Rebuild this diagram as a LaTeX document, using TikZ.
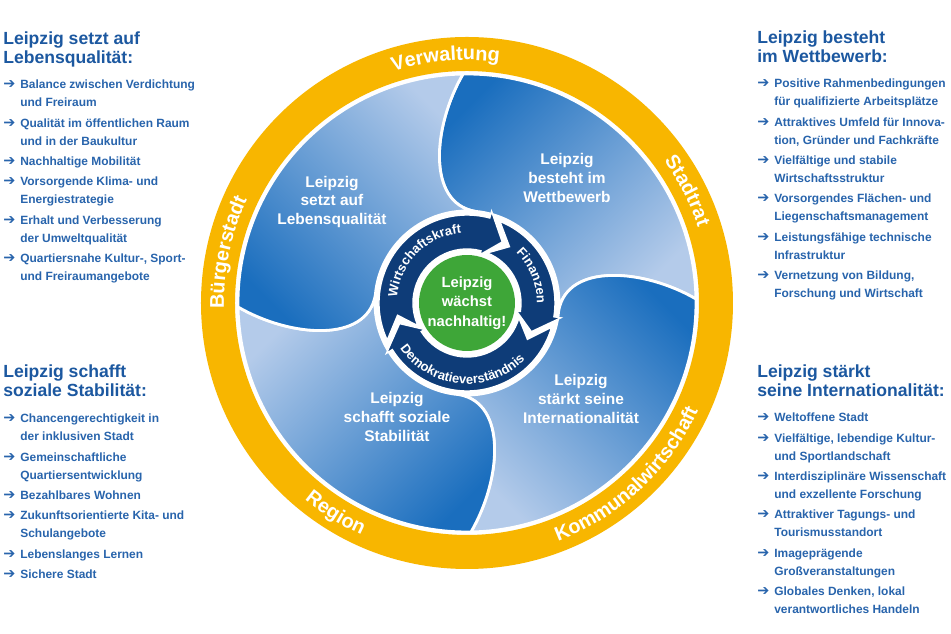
\documentclass[tikz,border=0pt]{standalone}
\usepackage{fontspec}
\setmainfont{Liberation Sans}
\newfontfamily\arrowfont{DejaVu Sans}
\usetikzlibrary{decorations.text}

\definecolor{headblue}{RGB}{28,88,160}
\definecolor{itemblue}{RGB}{40,100,172}
\definecolor{ringyellow}{RGB}{248,182,0}
\definecolor{ringnavy}{RGB}{14,60,120}
\definecolor{leafgreen}{RGB}{62,166,56}
\definecolor{petaldark}{RGB}{26,110,190}
\definecolor{petallight}{RGB}{180,203,234}

\newcommand{\arr}{\makebox[0.34cm][l]{\arrowfont\mdseries\fontsize{8.2}{10.2}\selectfont ➔}}
\newcommand{\ringlbl}{\fontsize{11.3}{13}\selectfont\bfseries}
\newcommand{\cyclelbl}{\fontsize{7.4}{8}\selectfont\bfseries}

\tikzset{
  head/.style={anchor=base west, inner sep=0pt, text=headblue, font=\fontsize{10}{10.8}\selectfont\bfseries},
  bullets/.style={anchor=base west, inner sep=0pt, text=itemblue, font=\fontsize{6.8}{10.2}\selectfont\bfseries},
  petallabel/.style={text=white, align=center, font=\fontsize{8.8}{10.8}\selectfont\bfseries},
  ringtext/.style={decorate, decoration={text along path, text align=center, text color=white, text={|\ringlbl|#1}}},
  cycletext/.style={decorate, decoration={text along path, text align=center, text color=white, text={|\cyclelbl|#1}}},
}

\begin{document}
\begin{tikzpicture}[x=0.02cm, y=0.02cm]
		\fill[white] (-467,-331) rectangle (484,303);
		\useasboundingbox (-467,-331) rectangle (484,303);
		% outer ring
		\fill[ringyellow, even odd rule] (0,0) circle[radius=266] (0,0) circle[radius=232];
		% petals
		\foreach \k in {0,...,3}{
			\pgfmathsetmacro\sa{45-90*\k}
			\pgfmathsetmacro\ta{85-90*\k}
			\pgfmathsetmacro\tb{-5-90*\k}
			\pgfmathsetmacro\oa{1-90*\k}
			\pgfmathsetmacro\ob{91-90*\k}
			\shadedraw[top color=petaldark, bottom color=petallight, shading angle=\sa, draw=white, line width=1.6pt]
				({91-90*\k}:229) .. controls ({101-90*\k}:180) and ({112-90*\k}:108) .. ({85-90*\k}:92)
				arc[start angle=\ta, end angle=\tb, radius=92]
				.. controls ({22-90*\k}:108) and ({11-90*\k}:180) .. ({1-90*\k}:229)
				arc[start angle=\oa, end angle=\ob, radius=229] -- cycle;
		}
		% cycle arrows
		\foreach \a/\b in {205/60, 68/-24, -16/-163}{
			\pgfmathsetmacro\hb{\b+15}
			\pgfmathsetmacro\na{\a-15}
			\filldraw[ringnavy, draw=white, line width=0.8pt] (\a:88) arc[start angle=\a, end angle=\hb, radius=88]
				-- (\hb:95) -- (\b:70.5) -- (\hb:50) -- (\hb:54)
				arc[start angle=\hb, end angle=\a, radius=54] -- (\na:70.5) -- cycle;
		}
		\path[cycletext=Wirtschaftskraft] (185:70) arc[start angle=185, end angle=85, radius=70];
		\path[cycletext=Finanzen] (55:70) arc[start angle=55, end angle=-10, radius=70];
		\path[cycletext=Demokratieverständnis] (-155:81) arc[start angle=-155, end angle=-35, radius=81];
		\node[circle, fill=leafgreen, minimum size=1.92cm, inner sep=0pt] (core) at (0,0) {};
		\node[text=white, align=center, font=\fontsize{8.4}{11}\selectfont\bfseries] (corelabel) at (core) {Leipzig\\wächst\\nachhaltig!};
		\node[petallabel] (quality) at (-135,101) {Leipzig\\setzt auf\\Lebensqualität};
		\node[petallabel] (contest) at (100,125) {Leipzig\\besteht im\\Wettbewerb};
		\node[petallabel] (social) at (-70,-114) {Leipzig\\schafft soziale\\Stabilität};
		\node[petallabel] (global) at (114,-96) {Leipzig\\stärkt seine\\Internationalität};
		% ring labels
		\path[ringtext=Verwaltung] (125:243) arc[start angle=125, end angle=65, radius=243];
		\path[ringtext=Stadtrat] (57:243) arc[start angle=57, end angle=-3, radius=243];
		\path[ringtext=Bürgerstadt] (198:243) arc[start angle=198, end angle=138, radius=243];
		\path[ringtext=Kommunalwirtschaft] (-82:255) arc[start angle=-82, end angle=-12, radius=255];
		\path[ringtext=Region] (-152:255) arc[start angle=-152, end angle=-92, radius=255];
		% side lists
		\node[head] (qualityhead) at (-464,258) {\begin{tabular}[t]{@{}l@{}}Leipzig setzt auf\\Lebensqualität:\end{tabular}};
		\node[bullets] (qualitylist) at (-464,214) {\begin{tabular}[t]{@{}l@{}l@{}}
			\arr & Balance zwischen Verdichtung\\ & und Freiraum\\[1.4pt]
			\arr & Qualität im öffentlichen Raum\\ & und in der Baukultur\\[1.4pt]
			\arr & Nachhaltige Mobilität\\[1.4pt]
			\arr & Vorsorgende Klima- und\\ & Energiestrategie\\[1.4pt]
			\arr & Erhalt und Verbesserung\\ & der Umweltqualität\\[1.4pt]
			\arr & Quartiersnahe Kultur-, Sport-\\ & und Freiraumangebote
		\end{tabular}};
		\node[head] (socialhead) at (-464,-75) {\begin{tabular}[t]{@{}l@{}}Leipzig schafft\\soziale Stabilität:\end{tabular}};
		\node[bullets] (sociallist) at (-464,-120) {\begin{tabular}[t]{@{}l@{}l@{}}
			\arr & Chancengerechtigkeit in\\ & der inklusiven Stadt\\[1.4pt]
			\arr & Gemeinschaftliche\\ & Quartiersentwicklung\\[1.4pt]
			\arr & Bezahlbares Wohnen\\[1.4pt]
			\arr & Zukunftsorientierte Kita- und\\ & Schulangebote\\[1.4pt]
			\arr & Lebenslanges Lernen\\[1.4pt]
			\arr & Sichere Stadt
		\end{tabular}};
		\node[head] (contesthead) at (290,259) {\begin{tabular}[t]{@{}l@{}}Leipzig besteht\\im Wettbewerb:\end{tabular}};
		\node[bullets] (contestlist) at (290,215) {\begin{tabular}[t]{@{}l@{}l@{}}
			\arr & Positive Rahmenbedingungen\\ & für qualifizierte Arbeitsplätze\\[1.4pt]
			\arr & Attraktives Umfeld für Innova-\\ & tion, Gründer und Fachkräfte\\[1.4pt]
			\arr & Vielfältige und stabile\\ & Wirtschaftsstruktur\\[1.4pt]
			\arr & Vorsorgendes Flächen- und\\ & Liegenschaftsmanagement\\[1.4pt]
			\arr & Leistungsfähige technische\\ & Infrastruktur\\[1.4pt]
			\arr & Vernetzung von Bildung,\\ & Forschung und Wirtschaft
		\end{tabular}};
		\node[head] (globalhead) at (290,-75) {\begin{tabular}[t]{@{}l@{}}Leipzig stärkt\\seine Internationalität:\end{tabular}};
		\node[bullets] (globallist) at (290,-119) {\begin{tabular}[t]{@{}l@{}l@{}}
			\arr & Weltoffene Stadt\\[1.4pt]
			\arr & Vielfältige, lebendige Kultur-\\ & und Sportlandschaft\\[1.4pt]
			\arr & Interdisziplinäre Wissenschaft\\ & und exzellente Forschung\\[1.4pt]
			\arr & Attraktiver Tagungs- und\\ & Tourismusstandort\\[1.4pt]
			\arr & Imageprägende\\ & Großveranstaltungen\\[1.4pt]
			\arr & Globales Denken, lokal\\ & verantwortliches Handeln
		\end{tabular}};
\end{tikzpicture}
\end{document}
